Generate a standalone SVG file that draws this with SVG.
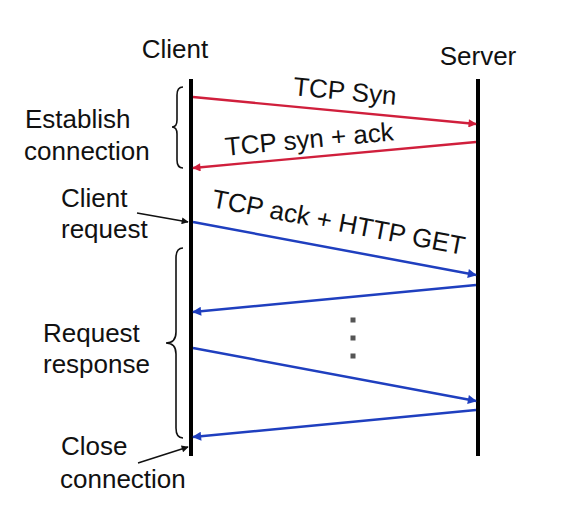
<svg xmlns="http://www.w3.org/2000/svg" width="563" height="512" viewBox="0 0 563 512">
<style>
text{font-family:"Liberation Sans",Arial,sans-serif;font-size:26px;fill:#111}
.life{stroke:#000;stroke-width:4}
.red{stroke:#d01f3c;stroke-width:2.3;fill:none}
.blue{stroke:#1f3fbf;stroke-width:2.5;fill:none}
.ptr{stroke:#111;stroke-width:1.4;fill:none}
.brace{stroke:#111;stroke-width:1.6;fill:none}
.dot{fill:#555}
</style>
<defs>
<marker id="ar" viewBox="0 0 10 10" refX="9" refY="5" markerWidth="4.5" markerHeight="3.6" orient="auto" markerUnits="strokeWidth"><path d="M0,0L10,5L0,10z" fill="#d01f3c"/></marker>
<marker id="ab" viewBox="0 0 10 10" refX="9" refY="5" markerWidth="4.5" markerHeight="3.6" orient="auto" markerUnits="strokeWidth"><path d="M0,0L10,5L0,10z" fill="#1f3fbf"/></marker>
<marker id="ak" viewBox="0 0 10 10" refX="9" refY="5" markerWidth="6" markerHeight="5" orient="auto" markerUnits="strokeWidth"><path d="M0,0L10,5L0,10z" fill="#111"/></marker>
</defs>
<rect width="563" height="512" fill="#fff"/>
<g id="client">
<text x="175" y="58" text-anchor="middle">Client</text>
<line class="life" x1="191" y1="79" x2="191" y2="456"/>
</g>
<g id="server">
<text x="478" y="65" text-anchor="middle">Server</text>
<line class="life" x1="478" y1="79" x2="478" y2="456"/>
</g>
<g id="labels">
<text x="25" y="128">Establish</text>
<text x="24" y="160">connection</text>
<text x="61" y="207">Client</text>
<text x="61" y="238">request</text>
<text x="43" y="342">Request</text>
<text x="43" y="373">response</text>
<text x="61" y="455">Close</text>
<text x="60" y="488">connection</text>
</g>
<g id="braces">
<path class="brace" d="M183,87 Q177,87 177,95 L177,120 Q177,127 172,127 Q177,127 177,134 L177,160 Q177,168 183,168"/>
<path class="brace" d="M183,248 Q176,248 176,258 L176,332 Q176,343 166,343 Q176,343 176,354 L176,428 Q176,438 183,438"/>
</g>
<g id="dots">
<rect class="dot" x="350.5" y="317.5" width="5" height="5"/>
<rect class="dot" x="350.5" y="335.5" width="5" height="5"/>
<rect class="dot" x="350.5" y="353.5" width="5" height="5"/>
</g>
<g id="connectors">
<line class="red" x1="193" y1="97" x2="476" y2="124" marker-end="url(#ar)"/>
<line class="red" x1="476" y1="142" x2="193" y2="168" marker-end="url(#ar)"/>
<line class="blue" x1="193" y1="222" x2="476" y2="275" marker-end="url(#ab)"/>
<line class="blue" x1="476" y1="285" x2="193" y2="312" marker-end="url(#ab)"/>
<line class="blue" x1="193" y1="348" x2="476" y2="401" marker-end="url(#ab)"/>
<line class="blue" x1="476" y1="410" x2="193" y2="437" marker-end="url(#ab)"/>
<line class="ptr" x1="137" y1="213" x2="188" y2="222" marker-end="url(#ak)"/>
<line class="ptr" x1="138" y1="463" x2="188" y2="447" marker-end="url(#ak)"/>
</g>
<g id="msg-labels">
<text x="344" y="100" text-anchor="middle" transform="rotate(5.5 344 100)">TCP Syn</text>
<text x="310" y="148" text-anchor="middle" transform="rotate(-5.2 310 148)">TCP syn + ack</text>
<text x="337" y="231" text-anchor="middle" font-size="26.5" transform="rotate(10.8 337 231)">TCP ack + HTTP GET</text>
</g>
</svg>
